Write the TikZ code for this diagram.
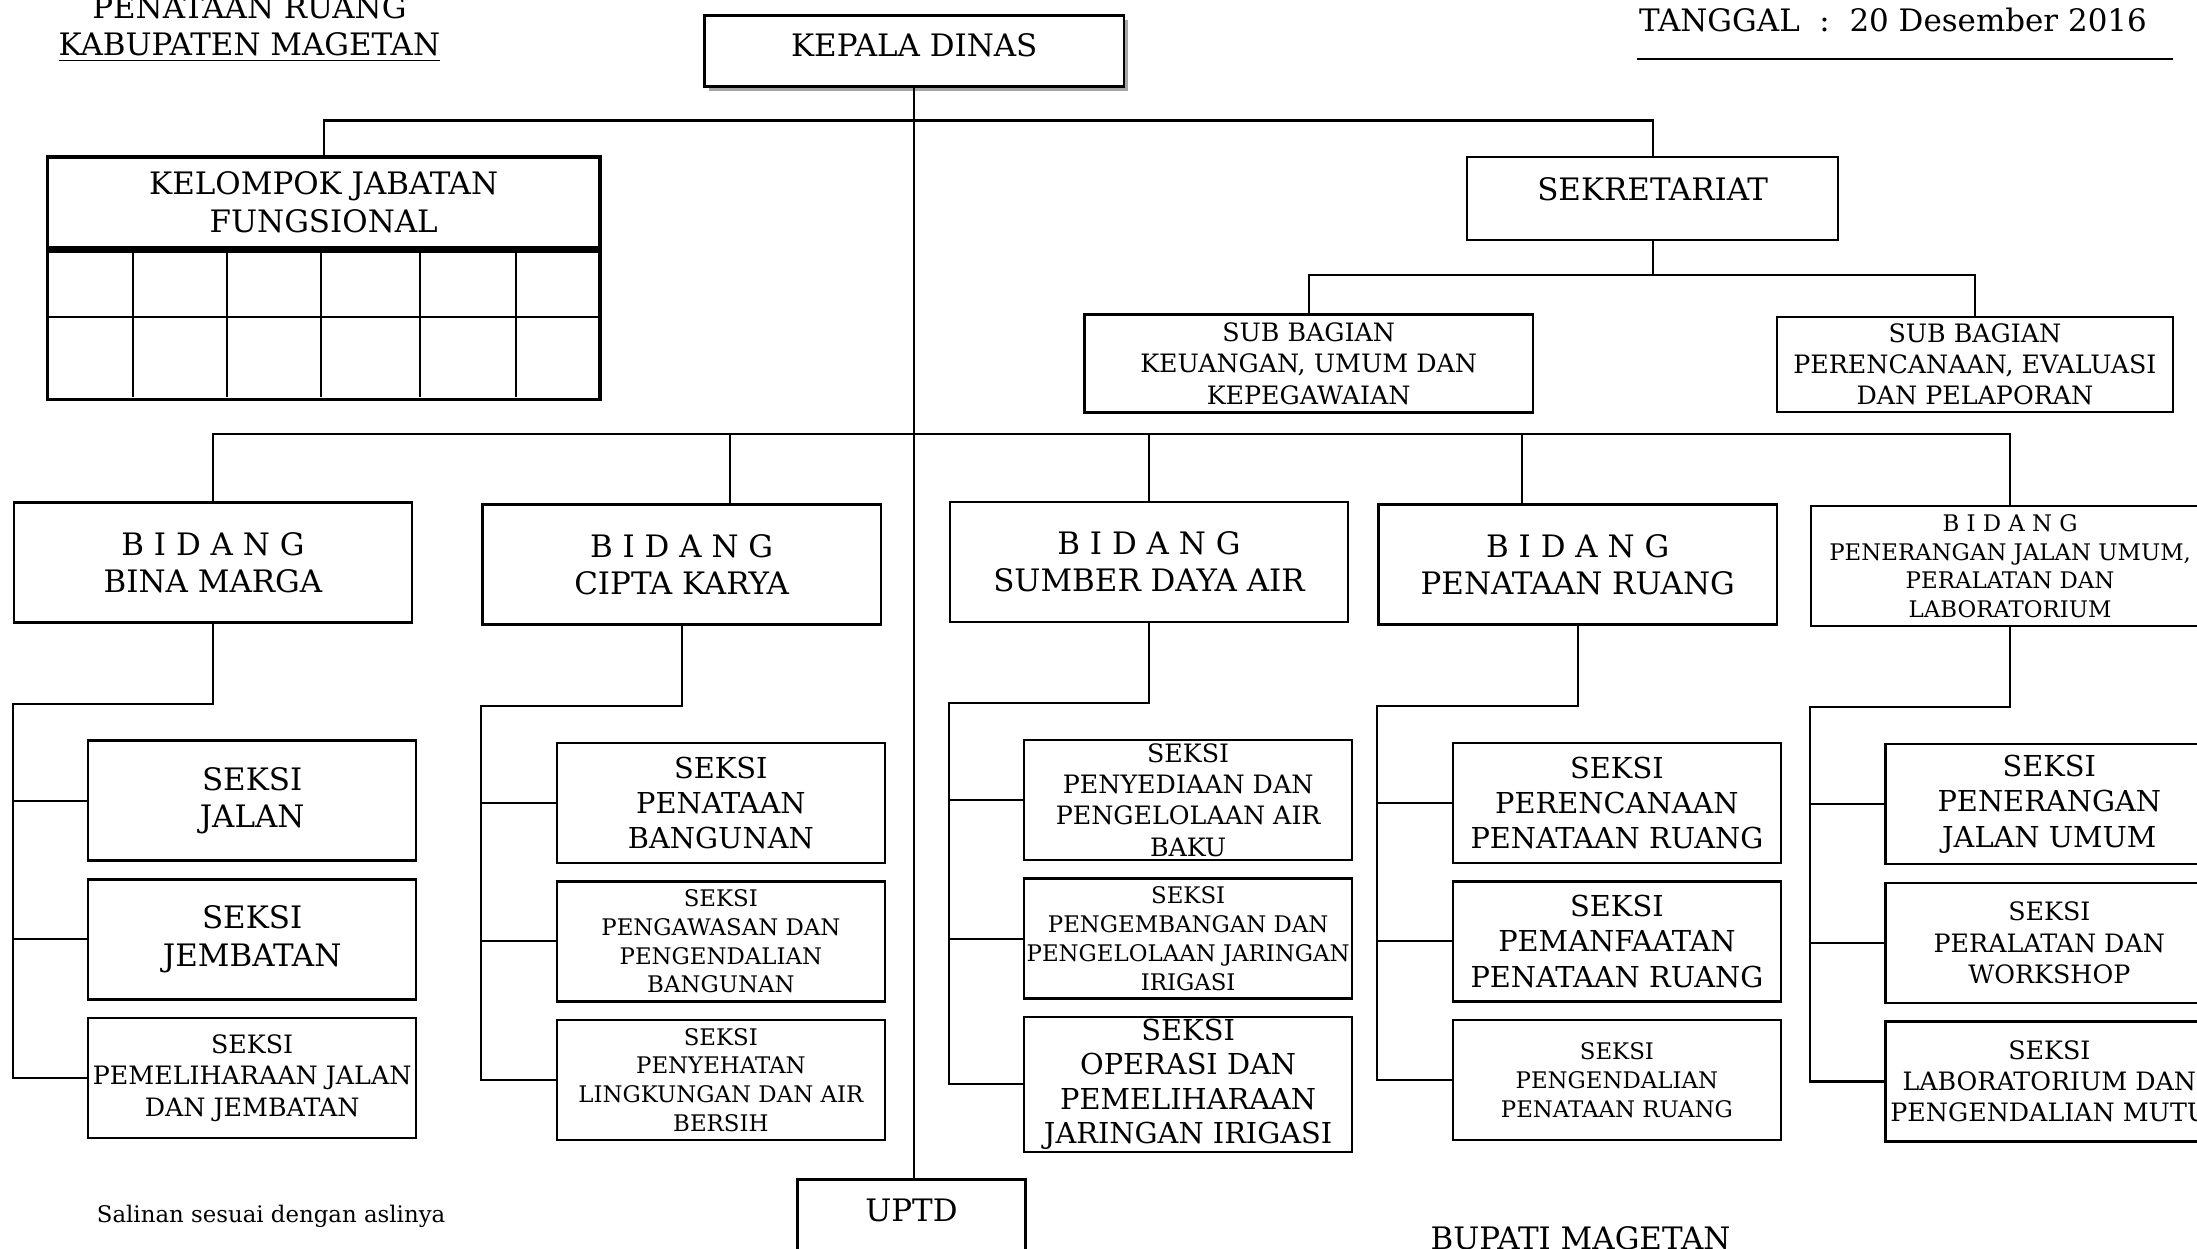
\documentclass[tikz,border=0pt]{standalone}
\usepackage{fontspec}
\setmainfont{DejaVu Serif}
\usetikzlibrary{shadows}
\tikzstyle{box} = [rectangle, draw=black, line width=0.7pt, inner sep=0pt, text centered, align=center]
\tikzstyle{headbox} = [box, fill=white, minimum width=4.19cm, minimum height=0.71cm, drop shadow={shadow xshift=1.3pt, shadow yshift=-1.3pt, fill=gray!70, opacity=1}]
\tikzstyle{bidang} = [box, minimum width=3.98cm, minimum height=1.2cm]
\tikzstyle{seksi} = [box, minimum width=3.28cm, minimum height=1.2cm]
\tikzstyle{bigtext} = [font=\fontsize{8.8}{10.7}\selectfont]
\tikzstyle{midtext} = [font=\fontsize{8.2}{10}\selectfont]
\tikzstyle{smidtext} = [font=\fontsize{7.2}{8.9}\selectfont]
\tikzstyle{smalltext} = [font=\fontsize{6.5}{8.2}\selectfont]
\tikzstyle{conn} = [line width=0.6pt]
\begin{document}
\begin{tikzpicture}[x=0.014cm, y=-0.014cm, node distance=1.386cm]
\useasboundingbox (0,0) rectangle (1568,891);

\node (judul) [bigtext] at (178,5) {PENATAAN RUANG};
\node (kabupaten) [bigtext] at (178,34) {\underline{KABUPATEN MAGETAN}};
\node (tanggal) [bigtext] at (1351,14) {TANGGAL\ \ :\ \ 20 Desember 2016};
\draw [conn] (1168,42) -- (1551,42);

\node (kepala dinas) [headbox, bigtext, text depth=3.25pt] at (652.5,36.5) {KEPALA DINAS};
\node (kjf) [box, bigtext, line width=1pt, minimum width=5.52cm, minimum height=0.91cm] at (231,144.5) {KELOMPOK JABATAN\\FUNGSIONAL};
\node (kjf table) [box, line width=1pt, minimum width=5.52cm, minimum height=1.48cm, anchor=north] at (kjf.south) {};
\node (sekretariat) [box, bigtext, minimum width=3.71cm, minimum height=0.83cm, text depth=5.2pt] at (1179.5,141.5) {SEKRETARIAT};
\node (sub keuangan) [box, smidtext, minimum width=4.48cm, minimum height=0.98cm] at (934,259.5) {SUB BAGIAN\\KEUANGAN, UMUM DAN\\KEPEGAWAIAN};
\node (sub perencanaan) [box, smidtext, minimum width=3.96cm, minimum height=0.95cm] at (1409.5,260) {SUB BAGIAN\\PERENCANAAN, EVALUASI\\DAN PELAPORAN};

\node (bina marga) [bidang, bigtext] at (152,401.5) {B I D A N G\\BINA MARGA};
\node (cipta karya) [bidang, bigtext] at (486.5,403) {B I D A N G\\CIPTA KARYA};
\node (sda) [bidang, bigtext] at (820,401) {B I D A N G\\SUMBER DAYA AIR};
\node (penataan ruang) [bidang, bigtext] at (1126,403) {B I D A N G\\PENATAAN RUANG};
\node (pju) [bidang, font=\fontsize{6.5}{8.1}\selectfont] at (1434.6,404) {B I D A N G\\PENERANGAN JALAN UMUM,\\PERALATAN DAN\\LABORATORIUM};

\node (seksi jalan) [seksi, bigtext, below of=bina marga, xshift=0.392cm, yshift=-0.994cm] {SEKSI\\JALAN};
\node (seksi jembatan) [seksi, bigtext, below of=seksi jalan] {SEKSI\\JEMBATAN};
\node (seksi pemeliharaan) [seksi, smidtext, below of=seksi jembatan] {SEKSI\\PEMELIHARAAN JALAN\\DAN JEMBATAN};

\node (seksi bangunan) [seksi, midtext, below of=cipta karya, xshift=0.392cm, yshift=-0.994cm] {SEKSI\\PENATAAN\\BANGUNAN};
\node (seksi pengawasan) [seksi, smalltext, below of=seksi bangunan] {SEKSI\\PENGAWASAN DAN\\PENGENDALIAN\\BANGUNAN};
\node (seksi penyehatan) [seksi, smalltext, below of=seksi pengawasan] {SEKSI\\PENYEHATAN\\LINGKUNGAN DAN AIR\\BERSIH};

\node (seksi air baku) [seksi, smidtext, below of=sda, xshift=0.392cm, yshift=-0.994cm] {SEKSI\\PENYEDIAAN DAN\\PENGELOLAAN AIR\\BAKU};
\node (seksi jaringan) [seksi, smalltext, below of=seksi air baku] {SEKSI\\PENGEMBANGAN DAN\\PENGELOLAAN JARINGAN\\IRIGASI};
\node (seksi operasi) [seksi, font=\fontsize{8.2}{9.8}\selectfont, minimum height=1.35cm, below of=seksi jaringan, yshift=-0.07cm] {SEKSI\\OPERASI DAN\\PEMELIHARAAN\\JARINGAN IRIGASI};

\node (seksi perencanaan) [seksi, midtext, below of=penataan ruang, xshift=0.392cm, yshift=-0.994cm] {SEKSI\\PERENCANAAN\\PENATAAN RUANG};
\node (seksi pemanfaatan) [seksi, midtext, below of=seksi perencanaan] {SEKSI\\PEMANFAATAN\\PENATAAN RUANG};
\node (seksi pengendalian) [seksi, smalltext, below of=seksi pemanfaatan] {SEKSI\\PENGENDALIAN\\PENATAAN RUANG};

\node (seksi penerangan) [seksi, midtext, below of=pju, xshift=0.392cm, yshift=-0.994cm] {SEKSI\\PENERANGAN\\JALAN UMUM};
\node (seksi peralatan) [seksi, smidtext, below of=seksi penerangan] {SEKSI\\PERALATAN DAN\\WORKSHOP};
\node (seksi laboratorium) [seksi, smidtext, below of=seksi peralatan] {SEKSI\\LABORATORIUM DAN\\PENGENDALIAN MUTU};

\node (uptd) [box, bigtext, minimum width=2.28cm, minimum height=1.4cm, text depth=22.3pt, anchor=north] at (650.5,841) {UPTD};
\node (salinan) [font=\fontsize{6.5}{8}\selectfont] at (193.5,868) {Salinan sesuai dengan aslinya};
\node (bupati) [bigtext] at (1128,884) {BUPATI MAGETAN};

\coordinate (top bus) at (653,86);
\coordinate (sek bus) at (1182,196);
\coordinate (bidang bus) at (653,310);
\coordinate (ck drop) at (521,310);
\coordinate (pr drop) at (1086,310);

\draw [conn] (34,226) -- (428,226);
\draw [conn] (95,177) -- (95,283) (162,177) -- (162,283) (229,177) -- (229,283) (300,177) -- (300,283) (368,177) -- (368,283);

\draw [conn] (kepala dinas.south) -- (kepala dinas.south |- uptd.north);
\draw [conn] (kjf.north) |- (top bus) -| (sekretariat.north);
\draw [conn] (sekretariat.south) -- (sekretariat.south |- sek bus);
\draw [conn] (sub keuangan.north) |- (sek bus) -| (sub perencanaan.north);
\draw [conn] (bina marga.north) |- (bidang bus) -| (pju.north);
\draw [conn] (ck drop) -- (ck drop |- cipta karya.north);
\draw [conn] (sda.north) -- (sda.north |- bidang bus);
\draw [conn] (pr drop) -- (pr drop |- penataan ruang.north);

\draw [conn] (bina marga.south) -- ++(0,57) -| (bina marga.west |- seksi pemeliharaan.west) -- (seksi pemeliharaan.west);
\draw [conn] (bina marga.west |- seksi jalan.west) -- (seksi jalan.west);
\draw [conn] (bina marga.west |- seksi jembatan.west) -- (seksi jembatan.west);

\draw [conn] (cipta karya.south) -- ++(0,57) -| (cipta karya.west |- seksi penyehatan.west) -- (seksi penyehatan.west);
\draw [conn] (cipta karya.west |- seksi bangunan.west) -- (seksi bangunan.west);
\draw [conn] (cipta karya.west |- seksi pengawasan.west) -- (seksi pengawasan.west);

\draw [conn] (sda.south) -- ++(0,57) -| (sda.west |- seksi operasi.west) -- (seksi operasi.west);
\draw [conn] (sda.west |- seksi air baku.west) -- (seksi air baku.west);
\draw [conn] (sda.west |- seksi jaringan.west) -- (seksi jaringan.west);

\draw [conn] (penataan ruang.south) -- ++(0,57) -| (penataan ruang.west |- seksi pengendalian.west) -- (seksi pengendalian.west);
\draw [conn] (penataan ruang.west |- seksi perencanaan.west) -- (seksi perencanaan.west);
\draw [conn] (penataan ruang.west |- seksi pemanfaatan.west) -- (seksi pemanfaatan.west);

\draw [conn] (pju.south) -- ++(0,57) -| (pju.west |- seksi laboratorium.west) -- (seksi laboratorium.west);
\draw [conn] (pju.west |- seksi penerangan.west) -- (seksi penerangan.west);
\draw [conn] (pju.west |- seksi peralatan.west) -- (seksi peralatan.west);

\end{tikzpicture}
\end{document}
